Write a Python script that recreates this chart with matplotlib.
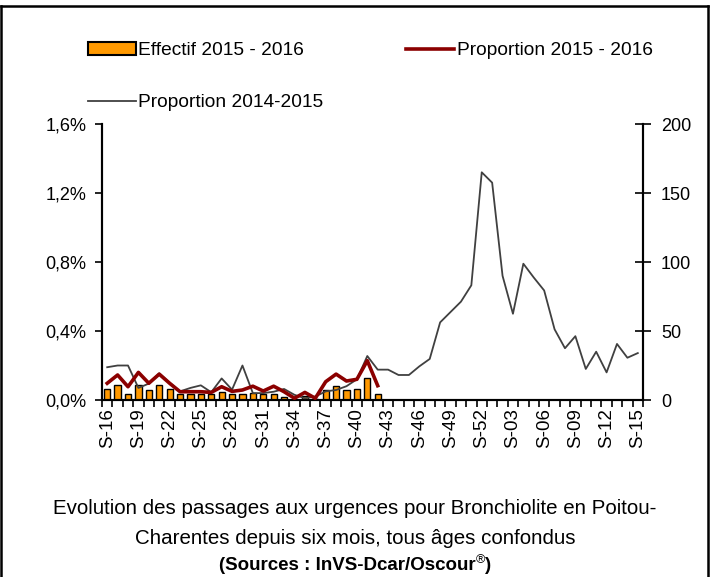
import matplotlib
matplotlib.use("Agg")
import matplotlib.pyplot as plt
from matplotlib.patches import Patch
from matplotlib.lines import Line2D
from matplotlib.ticker import FuncFormatter

plt.rcParams['font.family'] = ['Liberation Sans', 'DejaVu Sans']

weeks = [f"S-{w:02d}" for w in list(range(16, 53)) + list(range(1, 16))]

prop_2014_2015 = [0.19, 0.20, 0.20, 0.07, 0.095, 0.155, 0.10, 0.05, 0.07, 0.085,
                  0.045, 0.125, 0.06, 0.20, 0.04, 0.04, 0.048, 0.064, 0.03, 0.01,
                  0.02, 0.05, 0.058, 0.08, 0.12, 0.255, 0.176, 0.176, 0.145, 0.145,
                  0.195, 0.238, 0.45, 0.51, 0.57, 0.665, 1.32, 1.26, 0.72, 0.50,
                  0.79, 0.71, 0.635, 0.41, 0.30, 0.37, 0.18, 0.28, 0.16, 0.325,
                  0.245, 0.272]

prop_2015_2016 = [0.097, 0.145, 0.077, 0.16, 0.097, 0.15, 0.097, 0.048, 0.048, 0.048,
                  0.044, 0.077, 0.05, 0.058, 0.08, 0.052, 0.08, 0.048, 0.01, 0.044,
                  0.01, 0.106, 0.15, 0.11, 0.12, 0.228, 0.083]

effectif_2015_2016 = [8, 11, 4, 11, 7, 11, 8, 4, 4, 4,
                      4, 6, 4, 4, 5, 4, 4, 2, 0, 3,
                      1, 7, 10, 7, 8, 16, 4]

W, H = 710, 577
fig = plt.figure(figsize=(W / 100, H / 100), dpi=100)

left, right, top, bottom = 102, 643, 124, 400
ax = fig.add_axes([left / W, 1 - bottom / H, (right - left) / W, (bottom - top) / H])
ax2 = ax.twinx()

x_all = list(range(len(weeks)))
x_cur = list(range(len(effectif_2015_2016)))

ax2.bar(x_cur, effectif_2015_2016, width=0.6, color='#FF9900', edgecolor='black',
        linewidth=1.0, zorder=2)

ax.plot(x_all, [v / 100 for v in prop_2014_2015], color='#404040', lw=1.3, zorder=3)
ax.plot(list(range(len(prop_2015_2016))), [v / 100 for v in prop_2015_2016],
        color='#8B0000', lw=2.6, zorder=4)

ax.set_zorder(ax2.get_zorder() + 1)
ax.patch.set_visible(False)

ax.set_xlim(-0.5, len(weeks) - 0.5)
ax.set_ylim(0, 0.016)
ax2.set_ylim(0, 200)
ax.set_yticks([0, 0.004, 0.008, 0.012, 0.016])
ax.yaxis.set_major_formatter(FuncFormatter(lambda v, p: f"{v*100:.1f}%".replace('.', ',')))
ax2.set_yticks([0, 50, 100, 150, 200])

ax.set_xticks(x_all[::3])
ax.set_xticklabels(weeks[::3], rotation=90, fontsize=13.5)
ax.set_xticks([i - 0.5 for i in range(len(weeks) + 1)], minor=True)
ax.tick_params(axis='x', which='major', length=0, pad=6)
ax.tick_params(axis='x', which='minor', length=5, width=1.2, direction='out')
ax.tick_params(axis='y', which='major', length=5, width=1.2, direction='out',
               labelsize=13, pad=6)
ax2.tick_params(axis='y', which='major', length=12, width=1.2, direction='inout',
                labelsize=13, pad=7)

for a in (ax, ax2):
    a.spines['top'].set_visible(False)
    for s in ('left', 'right', 'bottom'):
        a.spines[s].set_linewidth(1.5)
        a.spines[s].set_color('black')

handles = [
    Patch(facecolor='#FF9900', edgecolor='black', linewidth=1.5),
    Line2D([], [], color='#404040', lw=1.3),
    Line2D([], [], color='#8B0000', lw=2.6),
]
labels = ['Effectif 2015 - 2016', 'Proportion 2014-2015', 'Proportion 2015 - 2016']
fig.legend(handles, labels, ncol=2, loc='upper left', bbox_to_anchor=(88 / W, 1 - 42 / H),
           frameon=False, fontsize=13.8, handlelength=2.5, handletextpad=0.12,
           columnspacing=4.33, labelspacing=1.8, borderaxespad=0, borderpad=0)

fig.text(355 / W, 1 - 509 / H,
         "Evolution des passages aux urgences pour Bronchiolite en Poitou-",
         ha='center', va='center', fontsize=14.8)
fig.text(355 / W, 1 - 538 / H, "Charentes depuis six mois, tous âges confondus",
         ha='center', va='center', fontsize=14.8)

# bold source line with superscript registered sign
renderer = fig.canvas.get_renderer()
y_src = 1 - 565 / H
p1 = fig.text(0, y_src, "(Sources : InVS-Dcar/Oscour", ha='left', va='center',
              fontsize=13.5, fontweight='bold')
p2 = fig.text(0, y_src + 5 / H, "®", ha='left', va='center', fontsize=9)
p3 = fig.text(0, y_src, ")", ha='left', va='center', fontsize=13.5, fontweight='bold')
w1 = p1.get_window_extent(renderer).width
w2 = p2.get_window_extent(renderer).width
w3 = p3.get_window_extent(renderer).width
x0 = 355 - (w1 + w2 + w3) / 2
p1.set_x(x0 / W)
p2.set_x((x0 + w1) / W)
p3.set_x((x0 + w1 + w2) / W)

# outer frame
fig.add_artist(Line2D([1 / W, 1 / W], [0, 1 - 6 / H], color='black', lw=1.8,
                      transform=fig.transFigure))
fig.add_artist(Line2D([708 / W, 708 / W], [0, 1 - 6 / H], color='black', lw=1.8,
                      transform=fig.transFigure))
fig.add_artist(Line2D([1 / W, 708 / W], [1 - 6 / H, 1 - 6 / H], color='black', lw=1.8,
                      transform=fig.transFigure))

fig.savefig('out.png', dpi=100)
